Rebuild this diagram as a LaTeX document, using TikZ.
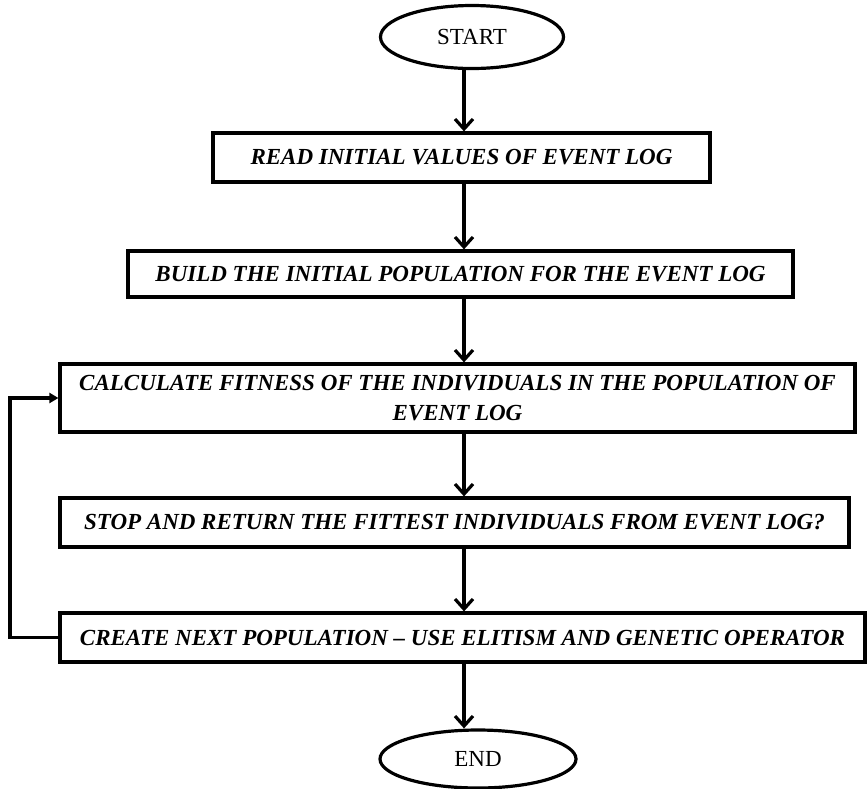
\documentclass[tikz,border=0pt]{standalone}
\usepackage{fontspec}
\setmainfont{Liberation Serif}
\usetikzlibrary{arrows.meta,shapes.geometric}
\begin{document}
\begin{tikzpicture}[x=1pt,y=-1pt,
  procbox/.style={draw=black,line width=3.2pt,rectangle,inner sep=0pt,align=center,
    font=\fontsize{23}{30}\selectfont\bfseries\itshape},
  term/.style={draw=black,line width=3.2pt,ellipse,inner sep=0pt,
    font=\fontsize{23}{26}\selectfont},
  flow/.style={line width=3.2pt,-{Straight Barb[length=10pt,width=18pt,line width=3.2pt]}},
  back/.style={line width=3.2pt,-{Triangle[length=9pt,width=10pt]}}]
\useasboundingbox (0,0) rectangle (867,788);
\node[term,minimum width=183,minimum height=63] (start) at (472,37) {START};
\node[procbox,minimum width=497,minimum height=49] (b1) at (461.5,157.5) {READ INITIAL VALUES OF EVENT LOG};
\node[procbox,minimum width=665,minimum height=46] (b2) at (460.5,274) {BUILD THE INITIAL POPULATION FOR THE EVENT LOG};
\node[procbox,minimum width=795,minimum height=68] (b3) at (457.5,398) {CALCULATE FITNESS OF THE INDIVIDUALS IN THE POPULATION OF\\EVENT LOG};
\node[procbox,minimum width=789,minimum height=49] (b4) at (454.5,522.5) {STOP AND RETURN THE FITTEST INDIVIDUALS FROM EVENT LOG?};
\node[procbox,minimum width=805,minimum height=49] (b5) at (462.5,637.5) {CREATE NEXT POPULATION – USE ELITISM AND GENETIC OPERATOR};
\node[term,minimum width=196,minimum height=58] (end) at (478,759) {END};
\coordinate (ax) at (464,0);
\coordinate (lx) at (10,0);
\draw[flow] (start.south -| ax) -- (b1.north -| ax);
\draw[flow] (b1.south -| ax) -- (b2.north -| ax);
\draw[flow] (b2.south -| ax) -- (b3.north -| ax);
\draw[flow] (b3.south -| ax) -- (b4.north -| ax);
\draw[flow] (b4.south -| ax) -- (b5.north -| ax);
\draw[flow] (b5.south -| ax) -- (end.north -| ax);
\draw[back] (b5.west) -- (b5.west -| lx) -- (b3.west -| lx) -- (b3.west);
\end{tikzpicture}
\end{document}
